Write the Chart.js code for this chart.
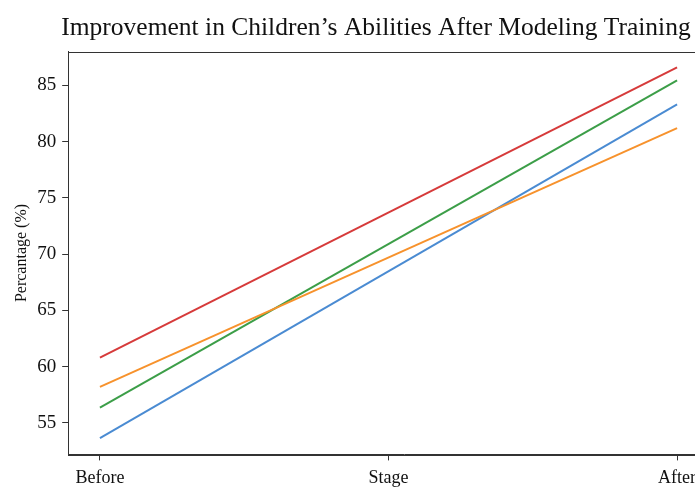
<!DOCTYPE html>
<html>
<head>
<meta charset="utf-8">
<script src="https://cdn.jsdelivr.net/npm/chart.js@4"></script>
<style>
  html, body { margin: 0; padding: 0; background: #fff; overflow: hidden; }
  #wrap { width: 752px; height: 496px; }
</style>
</head>
<body>
<div id="wrap"><canvas id="chart" width="752" height="496"></canvas></div>
<script>
// data
const stageLabels = ['Before', 'Stage', 'After'];
const stagePos = [0, 2];
const redVals = [60.8, 86.6];
const orangeVals = [58.2, 81.2];
const greenVals = [56.35, 85.45];
const blueVals = [53.65, 83.3];
const yTicks = [55, 60, 65, 70, 75, 80, 85];

const pts = vals => vals.map((v, i) => ({ x: stagePos[i], y: v }));
const serif = "'Liberation Serif', 'DejaVu Serif', serif";

const frame = {
  id: 'frame',
  afterDatasetsDraw(chart) {
    const a = chart.chartArea, c = chart.ctx;
    c.save();
    c.strokeStyle = '#333';
    c.lineWidth = 1;
    c.strokeRect(Math.round(a.left) + 0.5, Math.round(a.top) + 0.5, Math.round(a.right - a.left), Math.round(a.bottom - a.top));
    c.restore();
  }
};

function line(vals, color) {
  return { data: pts(vals), borderColor: color, borderWidth: 2, pointRadius: 0, fill: false, tension: 0 };
}

new Chart(document.getElementById('chart'), {
  type: 'line',
  data: {
    datasets: [
      line(redVals, '#d63a3a'),
      line(orangeVals, '#f7922c'),
      line(greenVals, '#3c9e48'),
      line(blueVals, '#4a8bd2')
    ]
  },
  options: {
    responsive: false,
    animation: false,
    layout: { padding: { left: 12, right: 12, top: 8, bottom: 0 } },
    plugins: {
      legend: { display: false },
      tooltip: { enabled: false },
      title: {
        display: true,
        text: 'Improvement in Children\u2019s Abilities After Modeling Training',
        color: '#111',
        font: { family: serif, size: 25.5, weight: 'normal' },
        padding: { top: 5, bottom: 8 }
      }
    },
    scales: {
      x: {
        type: 'linear',
        min: -0.11, max: 2.218,
        afterBuildTicks: ax => { ax.ticks = [0, 1, 2].map(v => ({ value: v })); },
        ticks: {
          callback: v => stageLabels[v] || '',
          color: '#111', font: { family: serif, size: 18 }, padding: 7, maxRotation: 0
        },
        grid: { display: true, drawOnChartArea: false, drawTicks: true, tickLength: 6, color: '#333' },
        border: { display: true, color: '#333' }
      },
      y: {
        min: 52.2, max: 88.0,
        afterBuildTicks: ax => { ax.ticks = yTicks.map(v => ({ value: v })); },
        ticks: { color: '#111', font: { family: serif, size: 19 }, padding: 6 },
        grid: { display: true, drawOnChartArea: false, drawTicks: true, tickLength: 6, color: '#333' },
        border: { display: true, color: '#333' },
        title: { display: true, text: 'Percantage (%)', color: '#111', font: { family: serif, size: 16 }, padding: 0 }
      }
    }
  },
  plugins: [frame]
});
</script>
</body>
</html>
